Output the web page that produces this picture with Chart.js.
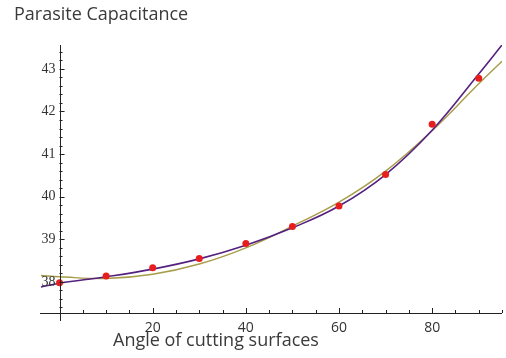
<!DOCTYPE html>
<html>
<head>
<meta charset="utf-8">
<script src="https://cdn.jsdelivr.net/npm/chart.js@4.4.1/dist/chart.umd.min.js"></script>
<style>
  html, body { margin: 0; padding: 0; background: #fff; }
  #wrap { width: 506px; height: 358px; position: relative; }
</style>
</head>
<body>
<div id="wrap"><canvas id="c"></canvas></div>
<script>
// measured points (red dots)
const angles = [0, 10, 20, 30, 40, 50, 60, 70, 80, 90];
const capacitance = [37.98, 38.14, 38.33, 38.55, 38.9, 39.3, 39.78, 40.52, 41.7, 42.78];

// fitted curves
const fitX = [-4, 0, 10, 20, 30, 40, 50, 60, 70, 80, 90, 95];
const fitPurple = [37.88, 37.97, 38.12, 38.3, 38.54, 38.86, 39.27, 39.78, 40.52, 41.56, 42.88, 43.56];
const fitOlive = [38.15, 38.12, 38.08, 38.18, 38.42, 38.8, 39.31, 39.87, 40.6, 41.55, 42.65, 43.18];

const xTicks = [20, 40, 60, 80];
const yTicks = [38, 39, 40, 41, 42, 43];

const INK = "#333";

const axesPlugin = {
  id: "mmaAxes",
  afterDraw(chart) {
    const { ctx, scales: { x, y } } = chart;
    const x0 = x.getPixelForValue(0);
    const yb = y.bottom;
    ctx.save();
    ctx.strokeStyle = "#222";
    ctx.lineWidth = 1;
    // axis lines
    ctx.beginPath();
    ctx.moveTo(x.left, yb + 0.5);
    ctx.lineTo(x.right, yb + 0.5);
    ctx.moveTo(Math.round(x0) + 0.5, y.top);
    ctx.lineTo(Math.round(x0) + 0.5, yb + 8);
    ctx.stroke();

    // x ticks: minor every 5, major every 20
    ctx.beginPath();
    for (let v = 5; v <= 95; v += 5) {
      const px = Math.round(x.getPixelForValue(v)) + 0.5;
      const len = v % 20 === 0 ? 5 : 3;
      ctx.moveTo(px, yb);
      ctx.lineTo(px, yb - len);
    }
    // y ticks: minor every 0.2, major every 1
    for (let i = 38 * 5 - 3; i <= 43 * 5 + 2; i++) {
      const v = i / 5;
      const py = Math.round(y.getPixelForValue(v)) + 0.5;
      const len = i % 5 === 0 ? 5 : 3;
      ctx.moveTo(x0, py);
      ctx.lineTo(x0 + len, py);
    }
    ctx.stroke();

    ctx.fillStyle = INK;
    ctx.textBaseline = "middle";
    ctx.font = "14px 'Open Sans', sans-serif";
    ctx.textAlign = "center";
    xTicks.forEach(v => ctx.fillText(String(v), x.getPixelForValue(v), yb + 15));
    ctx.font = "14px 'Liberation Serif', serif";
    ctx.textAlign = "right";
    yTicks.forEach(v => ctx.fillText(String(v), x0 - 4, y.getPixelForValue(v)));

    ctx.font = "18px 'Open Sans', sans-serif";
    ctx.textAlign = "left";
    ctx.fillStyle = "#3a3a3a";
    ctx.fillText("Parasite Capacitance", 14, 15);
    ctx.fillText("Angle of cutting surfaces", 113, 341);
    ctx.restore();
  }
};

new Chart(document.getElementById("c"), {
  type: "scatter",
  data: {
    datasets: [
      {
        data: fitX.map((v, i) => ({ x: v, y: fitOlive[i] })),
        showLine: true,
        borderColor: "#a79c48",
        borderWidth: 1.4,
        pointRadius: 0,
        tension: 0.4,
        order: 3
      },
      {
        data: fitX.map((v, i) => ({ x: v, y: fitPurple[i] })),
        showLine: true,
        borderColor: "#55207f",
        borderWidth: 1.6,
        pointRadius: 0,
        tension: 0.4,
        order: 2
      },
      {
        data: angles.map((v, i) => ({ x: v, y: capacitance[i] })),
        showLine: false,
        backgroundColor: "#e81e1e",
        borderWidth: 0,
        pointRadius: 3.5,
        order: 1
      }
    ]
  },
  options: {
    responsive: true,
    maintainAspectRatio: false,
    animation: false,
    layout: { padding: { left: 40, right: 1, top: 45, bottom: 45 } },
    scales: {
      x: { type: "linear", min: -4.2, max: 95, display: false },
      y: { type: "linear", min: 37.27, max: 43.56, display: false }
    },
    plugins: { legend: { display: false }, tooltip: { enabled: false } }
  },
  plugins: [axesPlugin]
});
</script>
</body>
</html>
